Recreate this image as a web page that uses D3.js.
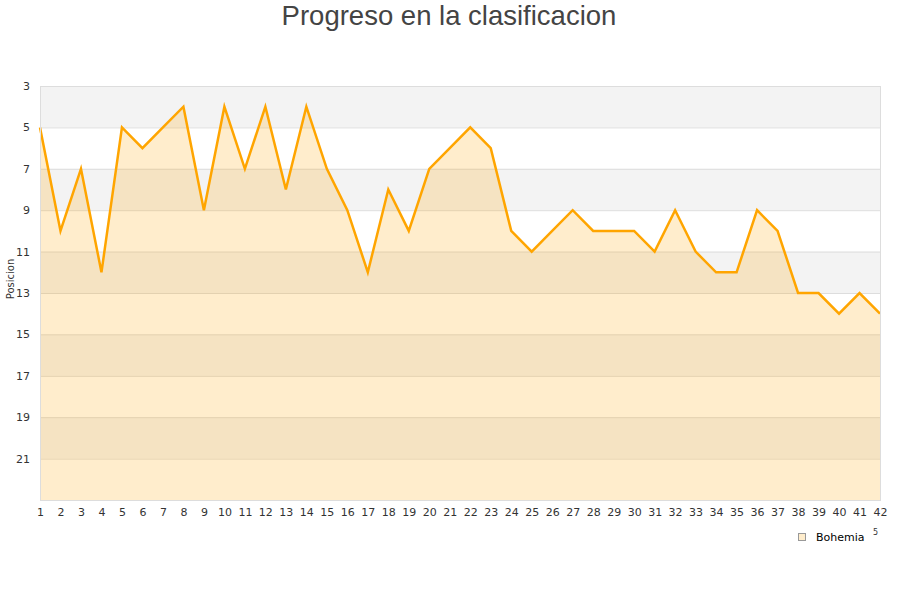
<!DOCTYPE html>
<html lang="es">
<head>
  <meta charset="UTF-8">
  <title>Progreso en la clasificacion</title>
  <style>
    body {
      margin: 0;
      background: #fff;
    }

    .axis text {
      font: 11px "DejaVu Sans", sans-serif;
      fill: #333;
    }

    .axis path,
    .axis line {
      display: none;
    }
  </style>
</head>
<body>
<div class="chart"></div>
</body>
<script src="https://d3js.org/d3.v7.min.js"></script>
<script>
  // datos: jornada y posicion
  let jornadas = d3.range(1, 43)
  let posiciones = [5, 10, 7, 12, 5, 6, 5, 4, 9, 4, 7, 4, 8, 4, 7, 9, 12, 8, 10, 7,
    6, 5, 6, 10, 11, 10, 9, 10, 10, 10, 11, 9, 11, 12, 12, 9, 10, 13, 13, 14, 13, 14]
  let yTicks = [3, 5, 7, 9, 11, 13, 15, 17, 19, 21]
  let serie = 'Bohemia'

  let width = 900
  let height = 600
  let paddingT = 86
  let paddingB = 100
  let paddingL = 40
  let paddingR = 20
  let chartW = width - paddingL - paddingR
  let chartH = height - paddingT - paddingB

  let svg = d3.select('.chart').append('svg').attr('width', width).attr('height', height)

  let xScale = d3.scaleLinear().domain([1, 42]).range([0, chartW])
  let yScale = d3.scaleLinear().domain([3, 23]).range([0, chartH])

  let g = svg.append('g').attr('transform', 'translate(' + paddingL + ',' + paddingT + ')')

  // bandas alternas
  g.selectAll('.band').data(yTicks)
    .enter().append('rect').attr('class', 'band')
    .attr('x', 0)
    .attr('width', chartW)
    .attr('y', d => yScale(d))
    .attr('height', d => yScale(d + 2) - yScale(d))
    .attr('fill', (d, i) => i % 2 === 0 ? '#f3f3f3' : '#ffffff')

  // lineas de la rejilla
  g.selectAll('.grid').data(yTicks.concat([23]))
    .enter().append('line').attr('class', 'grid')
    .attr('x1', 0).attr('x2', chartW)
    .attr('y1', d => yScale(d) + 0.5).attr('y2', d => yScale(d) + 0.5)
    .attr('stroke', '#dddddd')

  // area
  let area = d3.area()
    .x((d, i) => xScale(jornadas[i]))
    .y0(yScale(23))
    .y1(d => yScale(d))
  g.append('path').datum(posiciones)
    .attr('d', area)
    .attr('fill', '#ffa500')
    .attr('fill-opacity', 0.2)

  // linea
  let line = d3.line()
    .x((d, i) => xScale(jornadas[i]))
    .y(d => yScale(d))
  g.append('path').datum(posiciones)
    .attr('d', line)
    .attr('fill', 'none')
    .attr('stroke', '#ffa500')
    .attr('stroke-width', 2.5)

  // borde
  g.append('rect')
    .attr('x', 0.5).attr('y', 0.5)
    .attr('width', chartW).attr('height', chartH)
    .attr('fill', 'none')
    .attr('stroke', '#dddddd')

  // ejes
  let xAxis = d3.axisBottom(xScale).tickValues(jornadas).tickFormat(d3.format('d')).tickSize(0).tickPadding(8)
  g.append('g').attr('class', 'axis')
    .attr('transform', 'translate(0,' + chartH + ')')
    .call(xAxis)

  let yAxis = d3.axisLeft(yScale).tickValues(yTicks).tickSize(0).tickPadding(10)
  g.append('g').attr('class', 'axis').call(yAxis)

  // titulo
  svg.append('text')
    .attr('x', width / 2 - 1).attr('y', 25)
    .attr('text-anchor', 'middle')
    .style('font', '27.5px "Liberation Sans", Arial, sans-serif')
    .style('fill', '#444')
    .text('Progreso en la clasificacion')

  svg.append('text')
    .attr('transform', 'translate(14,' + (paddingT + chartH / 2 - 14) + ') rotate(-90)')
    .attr('text-anchor', 'middle')
    .style('font', '10px "DejaVu Sans", sans-serif')
    .style('fill', '#333')
    .text('Posicion')

  // leyenda
  let legend = svg.append('g').attr('transform', 'translate(798,533)')
  legend.append('rect')
    .attr('x', 0.5).attr('y', 0.5)
    .attr('width', 7).attr('height', 7)
    .attr('fill', '#ffedcc')
    .attr('stroke', '#999')
  legend.append('text')
    .attr('x', 18).attr('y', 8)
    .style('font', '11px "DejaVu Sans", sans-serif')
    .style('fill', '#000')
    .text(serie)
  legend.append('text')
    .attr('x', 75).attr('y', 2)
    .style('font', '8px "DejaVu Sans", sans-serif')
    .style('fill', '#333')
    .text('5')
</script>
</html>
